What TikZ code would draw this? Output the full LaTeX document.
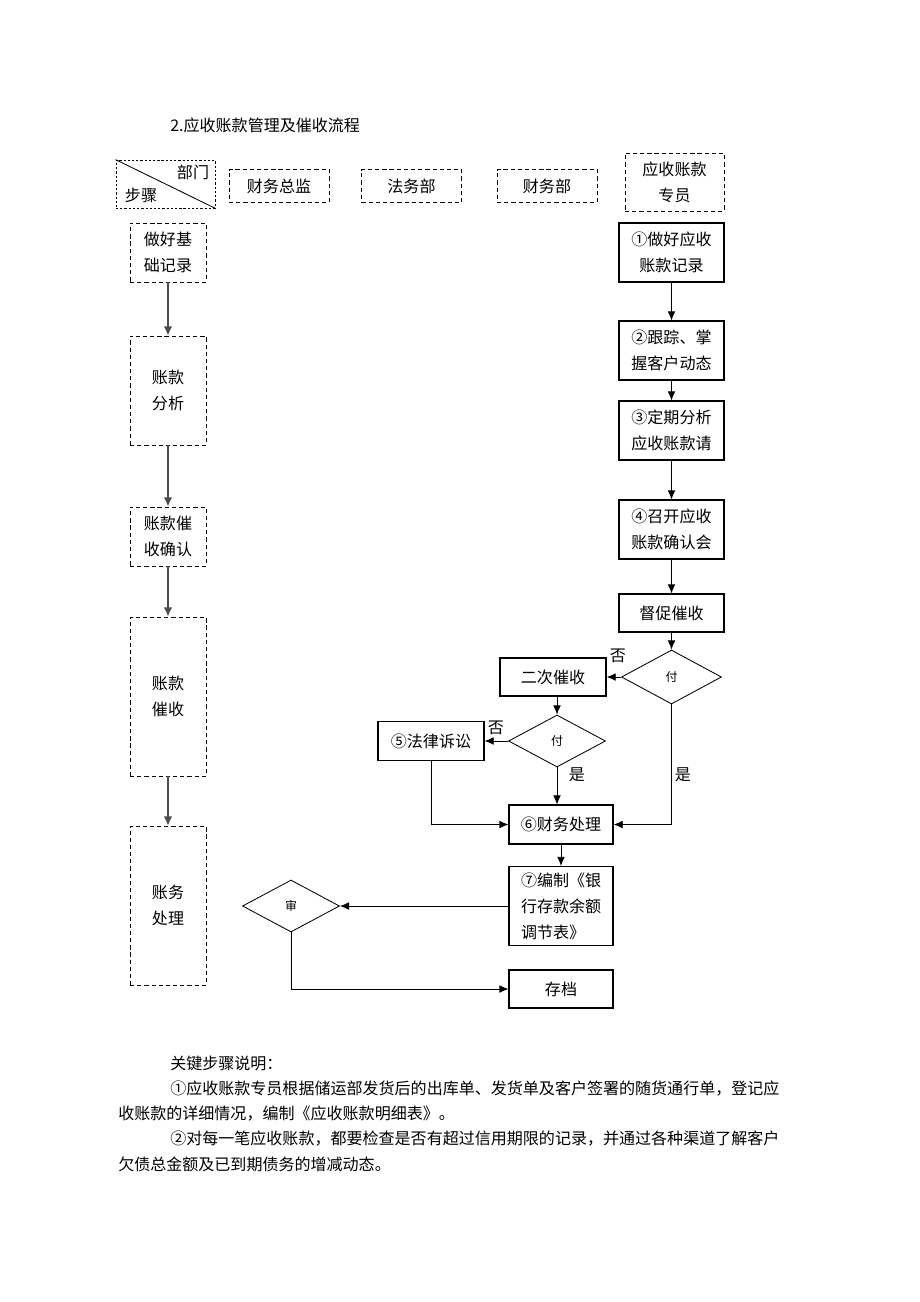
\documentclass[tikz,border=0pt]{standalone}
\usepackage{fontspec}
\setmainfont{Noto Sans CJK SC}
\usetikzlibrary{arrows.meta,shapes.geometric,positioning}
\newcommand{\txt}{\fontsize{11.4}{18.5}\selectfont}
\newcommand{\smalltxt}{\fontsize{8.5}{10}\selectfont}
\tikzset{%
	wh/.style 2 args = {minimum width=#1*0.025cm, minimum height=#2*0.025cm},
	corner/.style    = {draw, line width=0.5pt, dash pattern=on 1.6pt off 1.4pt, inner sep=0pt},
	dept/.style      = {draw, line width=0.6pt, dash pattern=on 3pt off 2.1pt, inner sep=0pt, align=center, font=\txt},
	process/.style   = {draw, rectangle, line width=0.75pt, inner sep=0pt, align=center, font=\txt},
	decision/.style  = {draw, diamond, line width=0.6pt, inner sep=0pt, font=\smalltxt},
	arrow/.style     = {line width=0.6pt, -{Latex[length=6.5pt,width=5.5pt]}},
	grayarrow/.style = {line width=1pt, draw=black!70, -{Latex[length=6.5pt,width=6pt]}},
	lbl/.style       = {font=\txt, inner sep=0pt},
}

\begin{document}
\begin{tikzpicture}[x=0.025cm, y=-0.025cm]
	\useasboundingbox (0,0) rectangle (920,1302);
	
	\node[lbl, anchor=west] (title) at (170,125) {2.应收账款管理及催收流程};
	
	% header row
	\node[corner, wh={99}{48}] (hd) at (165.5,184) {};
	\draw[line width=0.6pt] (hd.north west) -- (hd.south east);
	\node[lbl] (hdA) at (193,172) {部门};
	\node[lbl] (hdB) at (141,195) {步骤};
	\node[dept, wh={100}{33}] (cfo) at (279,186) {财务总监};
	\node[dept, wh={100}{33}] (legal) at (411.5,186) {法务部};
	\node[dept, wh={100}{33}] (fdept) at (547,186) {财务部};
	\node[dept, wh={99}{58}] (clerk) at (674.5,182) {应收账款\\专员};
	
	% left column (steps)
	\node[dept, wh={76}{59}] (base) at (168,252.5) {做好基\\础记录};
	\node[dept, wh={76}{109}] (anal) at (168,390.5) {账款\\分析};
	\node[dept, wh={76}{59}] (conf) at (168,536.5) {账款催\\收确认};
	\node[dept, wh={76}{159}] (urge) at (168,696.5) {账款\\催收};
	\node[dept, wh={76}{159}] (acct) at (168,905.5) {账务\\处理};
	
	\draw[grayarrow] (base) -- (anal);
	\draw[grayarrow] (anal) -- (conf);
	\draw[grayarrow] (conf) -- (urge);
	\draw[grayarrow] (urge) -- (acct);
	
	% right column (flow)
	\node[process, wh={105}{59}] (rec) at (671.5,252.5) {①做好应收\\账款记录};
	\node[process, wh={105}{59}] (track) at (671.5,350.5) {②跟踪、掌\\握客户动态};
	\node[process, wh={105}{59}] (review) at (671.5,430.5) {③定期分析\\应收账款请};
	\node[process, wh={105}{59}] (meet) at (671.5,529.5) {④召开应收\\账款确认会};
	\node[process, wh={105}{38}] (press) at (671.5,613) {督促催收};
	\node[decision, wh={100}{54}] (pay1) at (671.5,677) {付};
	\node[process, wh={106}{38}] (again) at (553,677) {二次催收};
	\node[decision, wh={97}{52}] (pay2) at (557,741) {付};
	\node[process, wh={106}{39}] (law) at (431,741) {⑤法律诉讼};
	\node[process, wh={104}{39}] (fin) at (561,824.5) {⑥财务处理};
	\node[process, wh={104}{79}, align=left, text width=80*0.025cm] (bank) at (561,906) {⑦编制《银\\行存款余额\\调节表》};
	\node[decision, wh={97}{52}] (audit) at (291,906) {审};
	\node[process, wh={104}{38}] (archive) at (561,989) {存档};
	
	\draw[arrow] (rec) -- (track);
	\draw[arrow] (track) -- (review);
	\draw[arrow] (review) -- (meet);
	\draw[arrow] (meet) -- (press);
	\draw[arrow] (press) -- (pay1);
	\draw[arrow] (pay1) -- (again);
	\draw[arrow] (pay1.south) |- (fin.east);
	\draw[arrow] (pay2.north |- again.south) -- (pay2.north);
	\draw[arrow] (pay2) -- (law);
	\draw[arrow] (pay2.south) -- (pay2.south |- fin.north);
	\draw[arrow] (law.south) |- (fin.west);
	\draw[arrow] (fin) -- (bank);
	\draw[arrow] (bank) -- (audit);
	\draw[arrow] (audit.south) |- (archive.west);
	
	\node[lbl] (no1) at (618,656) {否};
	\node[lbl] (yes1) at (683,775) {是};
	\node[lbl] (no2) at (496,728) {否};
	\node[lbl] (yes2) at (577,775) {是};
	
	% notes below
	\node[lbl, anchor=west] (n0) at (170,1063) {关键步骤说明：};
	\node[lbl, anchor=west] (n1) at (170,1089) {①应收账款专员根据储运部发货后的出库单、发货单及客户签署的随货通行单，登记应};
	\node[lbl, anchor=west] (n2) at (118,1114) {收账款的详细情况，编制《应收账款明细表》。};
	\node[lbl, anchor=west] (n3) at (170,1139) {②对每一笔应收账款，都要检查是否有超过信用期限的记录，并通过各种渠道了解客户};
	\node[lbl, anchor=west] (n4) at (118,1164) {欠债总金额及已到期债务的增减动态。};
	
\end{tikzpicture}
\end{document}
